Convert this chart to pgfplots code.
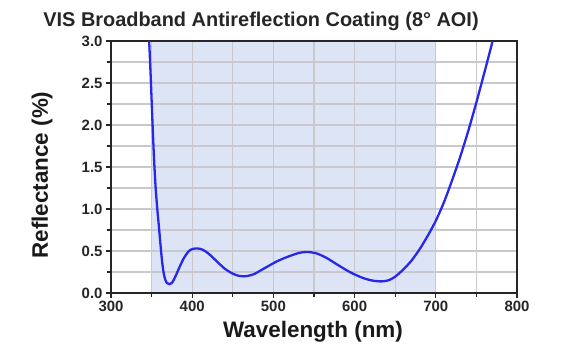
\documentclass[border=0pt]{standalone}
\usepackage{pgfplots}
\pgfplotsset{compat=1.18}
\usepackage{fontspec}
\setmainfont{Liberation Sans}
\definecolor{shade}{RGB}{221,228,246}
\definecolor{curve}{RGB}{40,40,235}
\definecolor{gridc}{RGB}{200,200,205}
\begin{document}
\begin{tikzpicture}
\begin{axis}[
  set layers,
  at={(0,0)}, anchor=south west,
  width=406bp, height=252bp, scale only axis,
  xmin=300, xmax=800, ymin=0, ymax=3,
  xtick={300,400,...,800},
  ytick={0,0.5,...,3},
  minor x tick num=1, minor y tick num=1,
  grid=both,
  major grid style={gridc, line width=1.3bp},
  minor grid style={gridc, line width=1.3bp},
  axis line style={black!85, line width=1.7bp},
  tick style={black!85, line width=1.2bp},
  tick align=outside,
  major tick length=5bp, minor tick length=4bp,
  xtick pos=bottom, ytick pos=left,
  /pgf/number format/assume math mode=true,
  tick label style={font=\fontsize{15}{17}\selectfont\bfseries, text=black!85},
  yticklabel style={/pgf/number format/.cd, fixed, fixed zerofill, precision=1},
  xticklabel style={/pgf/number format/.cd, set thousands separator={}},
]
\addplot[on layer=axis background, fill=shade, draw=none] coordinates {(350,3) (700,3)} \closedcycle;
\addplot[curve, line width=2.3bp, smooth, tension=0.5] coordinates {
(347,3.0) (349,2.55) (351,2.05) (353,1.6) (355,1.25) (357,1.0) (359,0.79)
(361,0.57) (363,0.37) (365,0.23) (367,0.155) (369,0.118) (372,0.105) (375,0.12) (379,0.19)
(384,0.30) (390,0.42) (396,0.50) (401,0.525) (407,0.53) (413,0.515) (420,0.47)
(430,0.38) (440,0.29) (450,0.23) (458,0.203) (464,0.198) (475,0.22) (490,0.30)
(505,0.38) (520,0.44) (532,0.478) (541,0.488) (552,0.475) (565,0.42) (580,0.33)
(595,0.245) (610,0.18) (622,0.148) (633,0.138) (642,0.152) (650,0.195) (660,0.28)
(670,0.385) (680,0.52) (690,0.68) (700,0.86) (710,1.08) (720,1.34) (730,1.62)
(740,1.93) (750,2.27) (760,2.63) (770,3.0)
};
\end{axis}
\node[anchor=base, font=\fontsize{20}{24}\selectfont\bfseries, text=black!85] at (150bp,266bp) {VIS Broadband Antireflection Coating (8° AOI)};
\node[anchor=base, font=\fontsize{22.5}{26}\selectfont\bfseries, text=black!90] at (202bp,-44bp) {Wavelength (nm)};
\node[rotate=90, font=\fontsize{22.5}{26}\selectfont\bfseries, text=black!90] at (-69bp,118bp) {Reflectance (\%)};
\path (-111bp,-67bp) rectangle (472bp,293bp);
\end{tikzpicture}
\end{document}
